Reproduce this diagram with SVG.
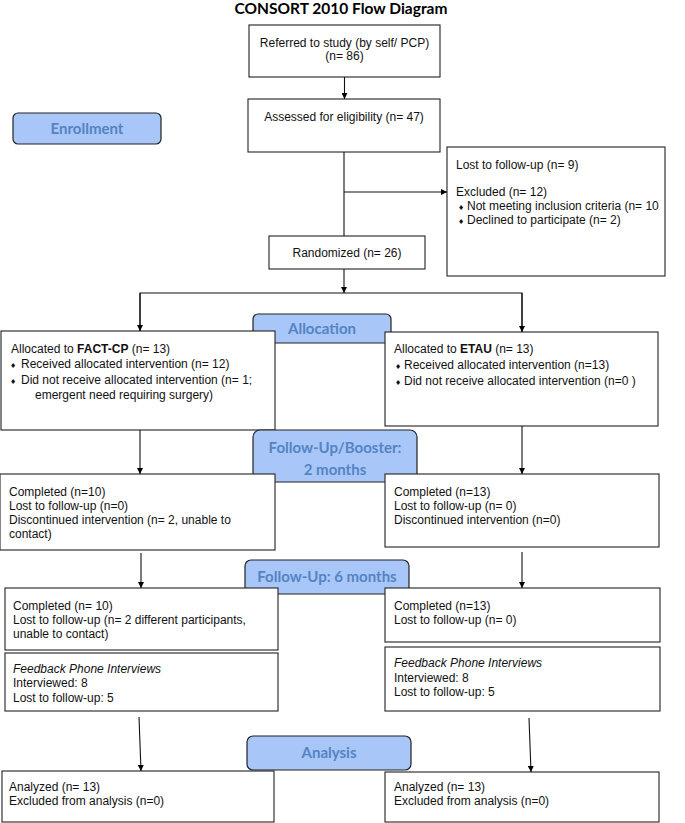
<svg xmlns="http://www.w3.org/2000/svg" width="685" height="823" viewBox="0 0 685 823">
<defs>
<marker id="ah" viewBox="0 0 10 10" refX="10" refY="5" markerWidth="6" markerHeight="6" orient="auto" markerUnits="userSpaceOnUse">
<path d="M0,0 L10,5 L0,10 z" fill="#000"/>
</marker>
<style>
.box{fill:#fff;stroke:#222;stroke-width:1.1}
.phase{fill:#a8c6f7;stroke:#222;stroke-width:1.2}
.pt{font-family:Lato,"Open Sans","Liberation Sans",sans-serif;font-weight:bold;font-size:15px;fill:#5484c4;text-anchor:middle}
.t{font-family:"Liberation Sans",Arial,sans-serif;font-size:12px;fill:#111}
.b{font-family:"DejaVu Sans",sans-serif;font-size:7px}
.c{text-anchor:middle}
.ln{fill:none;stroke:#111;stroke-width:1.1}
</style>
</defs>
<rect width="685" height="823" fill="#fff"/>
<text x="341" y="14" font-family="Lato,'Liberation Sans',sans-serif" font-weight="bold" font-size="15.5" text-anchor="middle" fill="#000">CONSORT 2010 Flow Diagram</text>

<g id="referred">
<rect class="box" x="249" y="25" width="191" height="52"/>
<text class="t c" x="344.5" y="47">Referred to study (by self/ PCP)</text>
<text class="t c" x="344.5" y="60">(n= 86)</text>
</g>
<g id="assessed">
<rect class="box" x="248" y="99" width="192" height="53"/>
<text class="t c" x="344" y="121">Assessed for eligibility (n= 47)</text>
</g>
<g id="enrollment">
<rect class="phase" x="13" y="113" width="148" height="31" rx="5"/>
<text class="pt" x="87" y="134">Enrollment</text>
</g>
<g id="excluded">
<rect class="box" x="447" y="147" width="218" height="129"/>
<text class="t" x="456" y="169">Lost to follow-up (n= 9)</text>
<text class="t" x="456" y="196">Excluded (n= 12)</text>
<text class="t" x="458" y="210"><tspan class="b">♦</tspan><tspan x="467">Not meeting inclusion criteria (n= 10</tspan></text>
<text class="t" x="458" y="224"><tspan class="b">♦</tspan><tspan x="467">Declined to participate (n= 2)</tspan></text>
</g>
<g id="randomized">
<rect class="box" x="269" y="236" width="156" height="33"/>
<text class="t c" x="347" y="257">Randomized (n= 26)</text>
</g>
<g id="allocation">
<rect class="phase" x="253" y="314" width="138" height="29" rx="5"/>
<text class="pt" x="322" y="334">Allocation</text>
</g>
<g id="alloc-fact">
<rect class="box" x="1" y="331" width="274" height="99"/>
<text class="t" x="11" y="353">Allocated to <tspan font-weight="bold">FACT-CP</tspan> (n= 13)</text>
<text class="t" x="10" y="368"><tspan class="b">♦</tspan><tspan x="21">Received allocated intervention (n= 12)</tspan></text>
<text class="t" x="10" y="384"><tspan class="b">♦</tspan><tspan x="21">Did not receive allocated intervention (n= 1;</tspan></text>
<text class="t" x="35" y="399">emergent need requiring surgery)</text>
</g>
<g id="alloc-etau">
<rect class="box" x="385" y="332" width="273" height="94"/>
<text class="t" x="394" y="353">Allocated to <tspan font-weight="bold">ETAU</tspan> (n= 13)</text>
<text class="t" x="395" y="369"><tspan class="b">♦</tspan><tspan x="404">Received allocated intervention (n=13)</tspan></text>
<text class="t" x="395" y="385"><tspan class="b">♦</tspan><tspan x="404">Did not receive allocated intervention (n=0 )</tspan></text>
</g>
<g id="booster">
<rect class="phase" x="253" y="430" width="164" height="52" rx="7"/>
<text class="pt" x="335" y="453">Follow-Up/Booster:</text>
<text class="pt" x="335" y="475">2 months</text>
</g>
<g id="fu2-fact">
<rect class="box" x="0" y="474" width="275" height="76"/>
<text class="t" x="9" y="496">Completed (n=10)</text>
<text class="t" x="9" y="510">Lost to follow-up (n=0)</text>
<text class="t" x="9" y="524">Discontinued intervention (n= 2, unable to</text>
<text class="t" x="9" y="538">contact)</text>
</g>
<g id="fu2-etau">
<rect class="box" x="385" y="474" width="274" height="73"/>
<text class="t" x="394" y="496">Completed (n=13)</text>
<text class="t" x="394" y="510">Lost to follow-up (n= 0)</text>
<text class="t" x="394" y="524">Discontinued intervention (n=0)</text>
</g>
<g id="fu6">
<rect class="phase" x="245" y="560" width="164" height="34" rx="6"/>
<text class="pt" x="327" y="582">Follow-Up: 6 months</text>
</g>
<g id="fu6-fact">
<rect class="box" x="5" y="588" width="273" height="62"/>
<text class="t" x="13" y="610">Completed (n= 10)</text>
<text class="t" x="13" y="624">Lost to follow-up (n= 2 different participants,</text>
<text class="t" x="13" y="638">unable to contact)</text>
</g>
<g id="fu6-etau">
<rect class="box" x="385" y="588" width="275" height="54"/>
<text class="t" x="394" y="610">Completed (n=13)</text>
<text class="t" x="394" y="624">Lost to follow-up (n= 0)</text>
</g>
<g id="phone-fact">
<rect class="box" x="5" y="653" width="273" height="58"/>
<text class="t" x="13" y="673" font-style="italic">Feedback Phone Interviews</text>
<text class="t" x="13" y="687">Interviewed: 8</text>
<text class="t" x="13" y="702">Lost to follow-up: 5</text>
</g>
<g id="phone-etau">
<rect class="box" x="385" y="647" width="275" height="64"/>
<text class="t" x="394" y="667" font-style="italic">Feedback Phone Interviews</text>
<text class="t" x="394" y="682">Interviewed: 8</text>
<text class="t" x="394" y="696">Lost to follow-up: 5</text>
</g>
<g id="analysis">
<rect class="phase" x="247" y="736" width="164" height="34" rx="6"/>
<text class="pt" x="329" y="758">Analysis</text>
</g>
<g id="an-fact">
<rect class="box" x="2" y="771" width="272" height="51"/>
<text class="t" x="9" y="791">Analyzed (n= 13)</text>
<text class="t" x="9" y="805">Excluded from analysis (n=0)</text>
</g>
<g id="an-etau">
<rect class="box" x="385" y="772" width="274" height="50"/>
<text class="t" x="394" y="791">Analyzed (n= 13)</text>
<text class="t" x="394" y="805">Excluded from analysis (n=0)</text>
</g>

<g id="connectors">
<line class="ln" x1="344.5" y1="77" x2="344.5" y2="99" marker-end="url(#ah)"/>
<line class="ln" x1="344" y1="152" x2="344" y2="236"/>
<line class="ln" x1="344" y1="192" x2="447" y2="192" marker-end="url(#ah)"/>
<line class="ln" x1="344" y1="269" x2="344" y2="293" marker-end="url(#ah)"/>
<polyline class="ln" points="140,331 140,293 522,293 522,332"/>
<line class="ln" x1="140" y1="293" x2="140" y2="331" marker-end="url(#ah)"/>
<line class="ln" x1="522" y1="293" x2="522" y2="332" marker-end="url(#ah)"/>
<line class="ln" x1="140" y1="430" x2="140" y2="474" marker-end="url(#ah)"/>
<line class="ln" x1="522" y1="426" x2="522" y2="474" marker-end="url(#ah)"/>
<line class="ln" x1="141" y1="553" x2="141" y2="588" marker-end="url(#ah)"/>
<line class="ln" x1="522" y1="552" x2="522" y2="588" marker-end="url(#ah)"/>
<line class="ln" x1="139" y1="717" x2="141" y2="771" marker-end="url(#ah)"/>
<line class="ln" x1="529" y1="718" x2="531" y2="772" marker-end="url(#ah)"/>
</g>
</svg>
